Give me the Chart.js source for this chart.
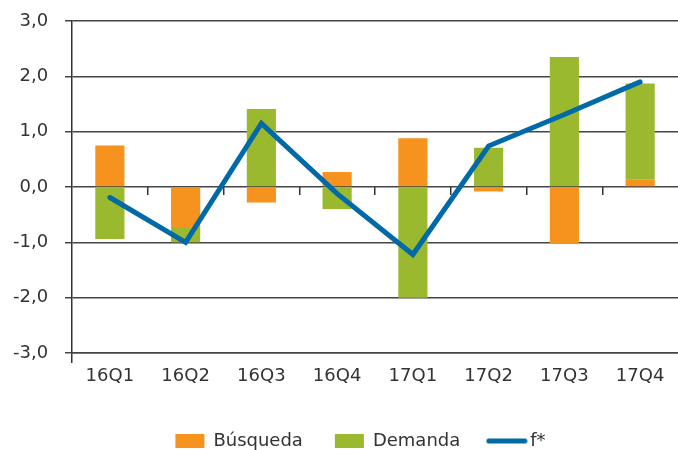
<!DOCTYPE html>
<html>
<head>
<meta charset="utf-8">
<script src="https://cdn.jsdelivr.net/npm/chart.js@4/dist/chart.umd.min.js"></script>
<style>
  html, body { margin: 0; padding: 0; background: #ffffff; }
  #wrap { width: 678px; height: 450px; position: relative; }
</style>
</head>
<body>
<div id="wrap"><canvas id="c"></canvas></div>
<script>
const categories = ['16Q1', '16Q2', '16Q3', '16Q4', '17Q1', '17Q2', '17Q3', '17Q4'];
const busqueda = [0.75, -0.74, -0.28, 0.27, 0.88, -0.08, -1.03, 0.14];
const demanda = [-0.94, -0.26, 1.41, -0.40, -2.00, 0.71, 2.35, 1.73];
const fStar = [-0.19, -1.00, 1.15, -0.12, -1.22, 0.74, 1.31, 1.90];
const yTickValues = [-3, -2, -1, 0, 1, 2, 3];
const yTickLabels = ['-3,0', '-2,0', '-1,0', '0,0', '1,0', '2,0', '3,0'];
const seriesNames = ['Búsqueda', 'Demanda', 'f*'];

const ORANGE = '#F6921E';
const GREEN = '#9AB92F';
const BLUE = '#0069A8';
const TEXT = '#333333';
const GRID = '#454545';
const FONT = { family: '"DejaVu Sans", sans-serif', size: 18 };

// legend marker for the line series
const lineMarker = document.createElement('canvas');
lineMarker.width = 42; lineMarker.height = 7;
(function () {
  const g = lineMarker.getContext('2d');
  g.strokeStyle = BLUE; g.lineWidth = 5; g.lineCap = 'round';
  g.beginPath(); g.moveTo(3, 3.5); g.lineTo(39, 3.5); g.stroke();
})();

new Chart(document.getElementById('c'), {
  type: 'bar',
  data: {
    labels: categories,
    datasets: [
      { label: seriesNames[0], data: busqueda, backgroundColor: ORANGE, stack: 'bars', order: 1, xAxisID: 'x', yAxisID: 'y' },
      { label: seriesNames[1], data: demanda, backgroundColor: GREEN, stack: 'bars', order: 1, xAxisID: 'x', yAxisID: 'y' },
      { type: 'line', label: seriesNames[2], data: fStar, borderColor: BLUE, backgroundColor: BLUE,
        borderWidth: 5, pointRadius: 0, pointHoverRadius: 0, tension: 0, fill: false,
        borderCapStyle: 'round', borderJoinStyle: 'miter', stack: 'line', order: 0, xAxisID: 'x', yAxisID: 'y' }
    ]
  },
  options: {
    responsive: true,
    maintainAspectRatio: false,
    animation: false,
    devicePixelRatio: 1,
    layout: { padding: { left: 43, right: 0, top: 21, bottom: -10 } },
    datasets: { bar: { barPercentage: 0.385, categoryPercentage: 1 } },
    scales: {
      x: {
        type: 'category',
        stacked: true,
        offset: true,
        position: 'bottom',
        grid: {
          offset: true,
          drawOnChartArea: false,
          tickLength: 10,
          lineWidth: 1.5,
          color: (ctx) => ctx.index === 0 ? '#333333' : 'rgba(0,0,0,0)'
        },
        border: { display: true, color: GRID, width: 1.5 },
        ticks: { color: TEXT, font: FONT, padding: 3, maxRotation: 0 },
        afterFit: (s) => { s.height = 47; }
      },
      x2: {
        type: 'category',
        axis: 'x',
        offset: true,
        position: { y: 0 },
        grid: {
          offset: true,
          drawOnChartArea: false,
          tickLength: 8,
          lineWidth: 1.5,
          color: (ctx) => (ctx.index > 0 && ctx.index < categories.length) ? '#333333' : 'rgba(0,0,0,0)'
        },
        border: { display: false },
        ticks: { display: false }
      },
      y: {
        stacked: true,
        min: -3,
        max: 3,
        grid: { color: GRID, lineWidth: 1.5, tickLength: 7 },
        border: { display: true, color: '#333333', width: 1.5 },
        ticks: {
          stepSize: 1,
          color: TEXT,
          font: FONT,
          mirror: true,
          crossAlign: 'far',
          padding: -59,
          callback: (v) => { const i = yTickValues.indexOf(v); return i >= 0 ? yTickLabels[i] : ''; }
        },
        afterFit: (s) => { s.width = 29; s.paddingTop = 0; s.paddingBottom = 0; }
      }
    },
    plugins: {
      tooltip: { enabled: false },
      legend: {
        position: 'bottom',
        labels: {
          font: FONT,
          color: TEXT,
          usePointStyle: true,
          pointStyleWidth: 29,
          boxHeight: 14,
          padding: 32,
          generateLabels: (chart) => chart.data.datasets.map((ds, i) => ({
            text: ds.label,
            fillStyle: ds.type === 'line' ? BLUE : ds.backgroundColor,
            strokeStyle: 'rgba(0,0,0,0)',
            lineWidth: 0,
            fontColor: TEXT,
            pointStyle: ds.type === 'line' ? lineMarker : 'rect',
            datasetIndex: i,
            hidden: false
          }))
        }
      }
    }
  }
});
</script>
</body>
</html>
